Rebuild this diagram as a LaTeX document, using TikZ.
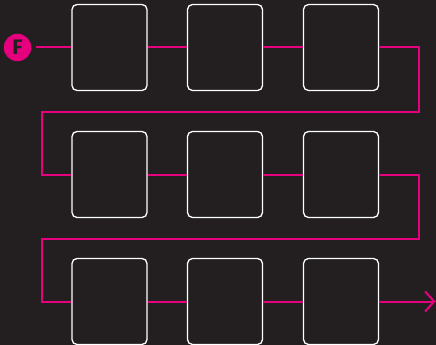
\documentclass[tikz,border=0pt]{standalone}
\usepackage{fontspec}
\setmainfont{Fira Sans}
\usetikzlibrary{arrows.meta}
\definecolor{bg}{HTML}{231F20}
\definecolor{mag}{HTML}{E6007E}
\tikzset{
  cell/.style={draw=white, line width=1.3pt, rounded corners=5pt, minimum width=75pt, minimum height=86pt, inner sep=0pt},
  flow/.style={draw=mag, line width=2pt},
  start/.style={circle, fill=mag, minimum size=27.5pt, inner sep=0pt, text=bg, font=\bfseries\fontsize{21}{21}\selectfont}
}
\begin{document}
\begin{tikzpicture}[x=1pt,y=-1pt]
\fill[bg] (0,0) rectangle (436,345);
\useasboundingbox (0,0) rectangle (436,345);
\node[start] (F) at (17.5,47.5) {F};
\foreach \r/\y in {1/47.5,2/174.5,3/301.5}{
  \node[cell] (b\r1) at (109.5,\y) {};
  \node[cell] (b\r2) at (225,\y) {};
  \node[cell] (b\r3) at (341,\y) {};
}
\coordinate (t1) at (419,47.5);
\coordinate (t2) at (419,111.5);
\coordinate (t3) at (42,111.5);
\coordinate (t4) at (42,174.5);
\coordinate (u1) at (419,174.5);
\coordinate (u2) at (419,238.5);
\coordinate (u3) at (42,238.5);
\coordinate (u4) at (42,301.5);
\coordinate (end) at (435.5,301.5);
\draw[flow] (36,47.5) -- (b11.west);
\draw[flow] (b11.east) -- (b12.west);
\draw[flow] (b12.east) -- (b13.west);
\draw[flow] (b13.east) -- (t1) -- (t2) -- (t3) -- (t4) -- (b21.west);
\draw[flow] (b21.east) -- (b22.west);
\draw[flow] (b22.east) -- (b23.west);
\draw[flow] (b23.east) -- (u1) -- (u2) -- (u3) -- (u4) -- (b31.west);
\draw[flow] (b31.east) -- (b32.west);
\draw[flow] (b32.east) -- (b33.west);
\draw[flow, -{Straight Barb[length=9pt,width=20pt,line width=2pt]}] (b33.east) -- (end);
\end{tikzpicture}
\end{document}
